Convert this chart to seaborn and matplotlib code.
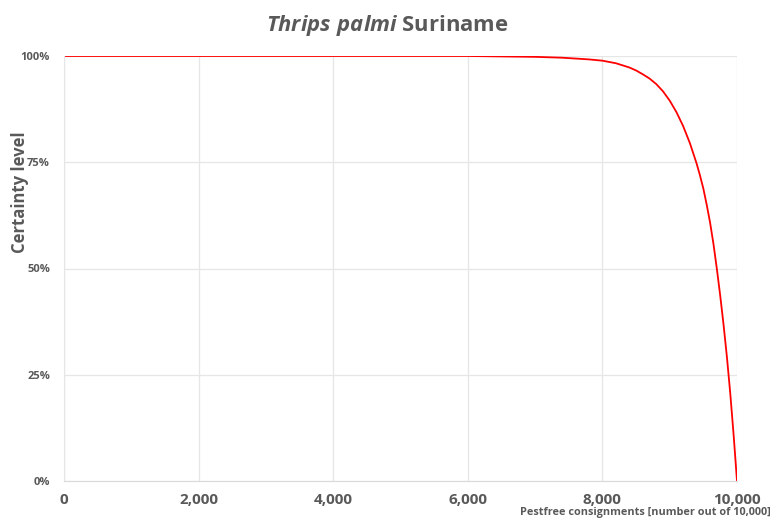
import matplotlib
matplotlib.use("Agg")
import matplotlib.pyplot as plt
import matplotlib.ticker as mticker
import seaborn as sns
import pandas as pd

# values
consignments = [0, 2000, 4000, 5000, 6000, 6500, 7000, 7400, 7800, 8000, 8200, 8400,
                8500, 8600, 8700, 8800, 8900, 9000, 9100, 9200, 9300, 9400, 9450, 9500,
                9550, 9600, 9650, 9700, 9750, 9800, 9850, 9900, 9950, 10000]
certainty = [1.000, 1.000, 1.000, 1.000, 1.000, 0.999, 0.998, 0.996, 0.992, 0.989, 0.983,
             0.973, 0.966, 0.957, 0.947, 0.934, 0.917, 0.895, 0.868, 0.835, 0.795, 0.747,
             0.719, 0.688, 0.650, 0.608, 0.558, 0.500, 0.437, 0.368, 0.292, 0.206,
             0.108, 0.000]
x_ticks = [0, 2000, 4000, 6000, 8000, 10000]
y_ticks = [0, 0.25, 0.5, 0.75, 1.0]

df = pd.DataFrame({"Pestfree": consignments, "Certainty": certainty})

sns.set_style("white")
plt.rcParams["font.family"] = ["Open Sans", "DejaVu Sans"]
plt.rcParams["mathtext.fontset"] = "custom"
plt.rcParams["mathtext.it"] = "Open Sans:italic:bold"
plt.rcParams["mathtext.rm"] = "Open Sans:bold"

grey = "#595959"
fig = plt.figure(figsize=(7.74, 5.19), dpi=100)
ax = fig.add_axes([64 / 774, 1 - 481 / 519, (737 - 64) / 774, (481 - 56) / 519])

sns.lineplot(data=df, x="Pestfree", y="Certainty", color="#ff0000", linewidth=1.3, ax=ax)

ax.set_xlim(0, 10000)
ax.set_ylim(0, 1)
ax.set_xticks(x_ticks)
ax.set_yticks(y_ticks)
ax.xaxis.set_major_formatter(mticker.FuncFormatter(lambda v, p: f"{int(v):,}"))
ax.yaxis.set_major_formatter(mticker.PercentFormatter(1.0, decimals=0))
ax.grid(True, color="#e6e6e6", linewidth=0.9)
ax.set_axisbelow(True)
for side in ["top", "right"]:
    ax.spines[side].set_visible(False)
ax.spines["left"].set_color("#e6e6e6")
ax.spines["bottom"].set_color("#d9d9d9")
ax.tick_params(axis="both", length=0)
ax.tick_params(axis="x", labelsize=11, colors=grey, pad=9)
ax.tick_params(axis="y", labelsize=8, colors=grey, pad=10)
for lbl in ax.get_xticklabels() + ax.get_yticklabels():
    lbl.set_fontweight("bold")

ax.set_xlabel("")
ax.set_ylabel("Certainty level", fontsize=12, fontweight="bold", color=grey)
ax.yaxis.set_label_coords(-0.052, 0.68)

fig.text(0.5, 1 - 25 / 519, r"$\mathit{Thrips\ palmi}$ Suriname", ha="center", va="center",
         fontsize=15.8, fontweight="bold", color=grey)
fig.text(771 / 774, 1 - 513 / 519, "Pestfree consignments [number out of 10,000]",
         ha="right", va="center", fontsize=7.8, fontweight="bold", color=grey)

fig.savefig("out.png", dpi=100)
